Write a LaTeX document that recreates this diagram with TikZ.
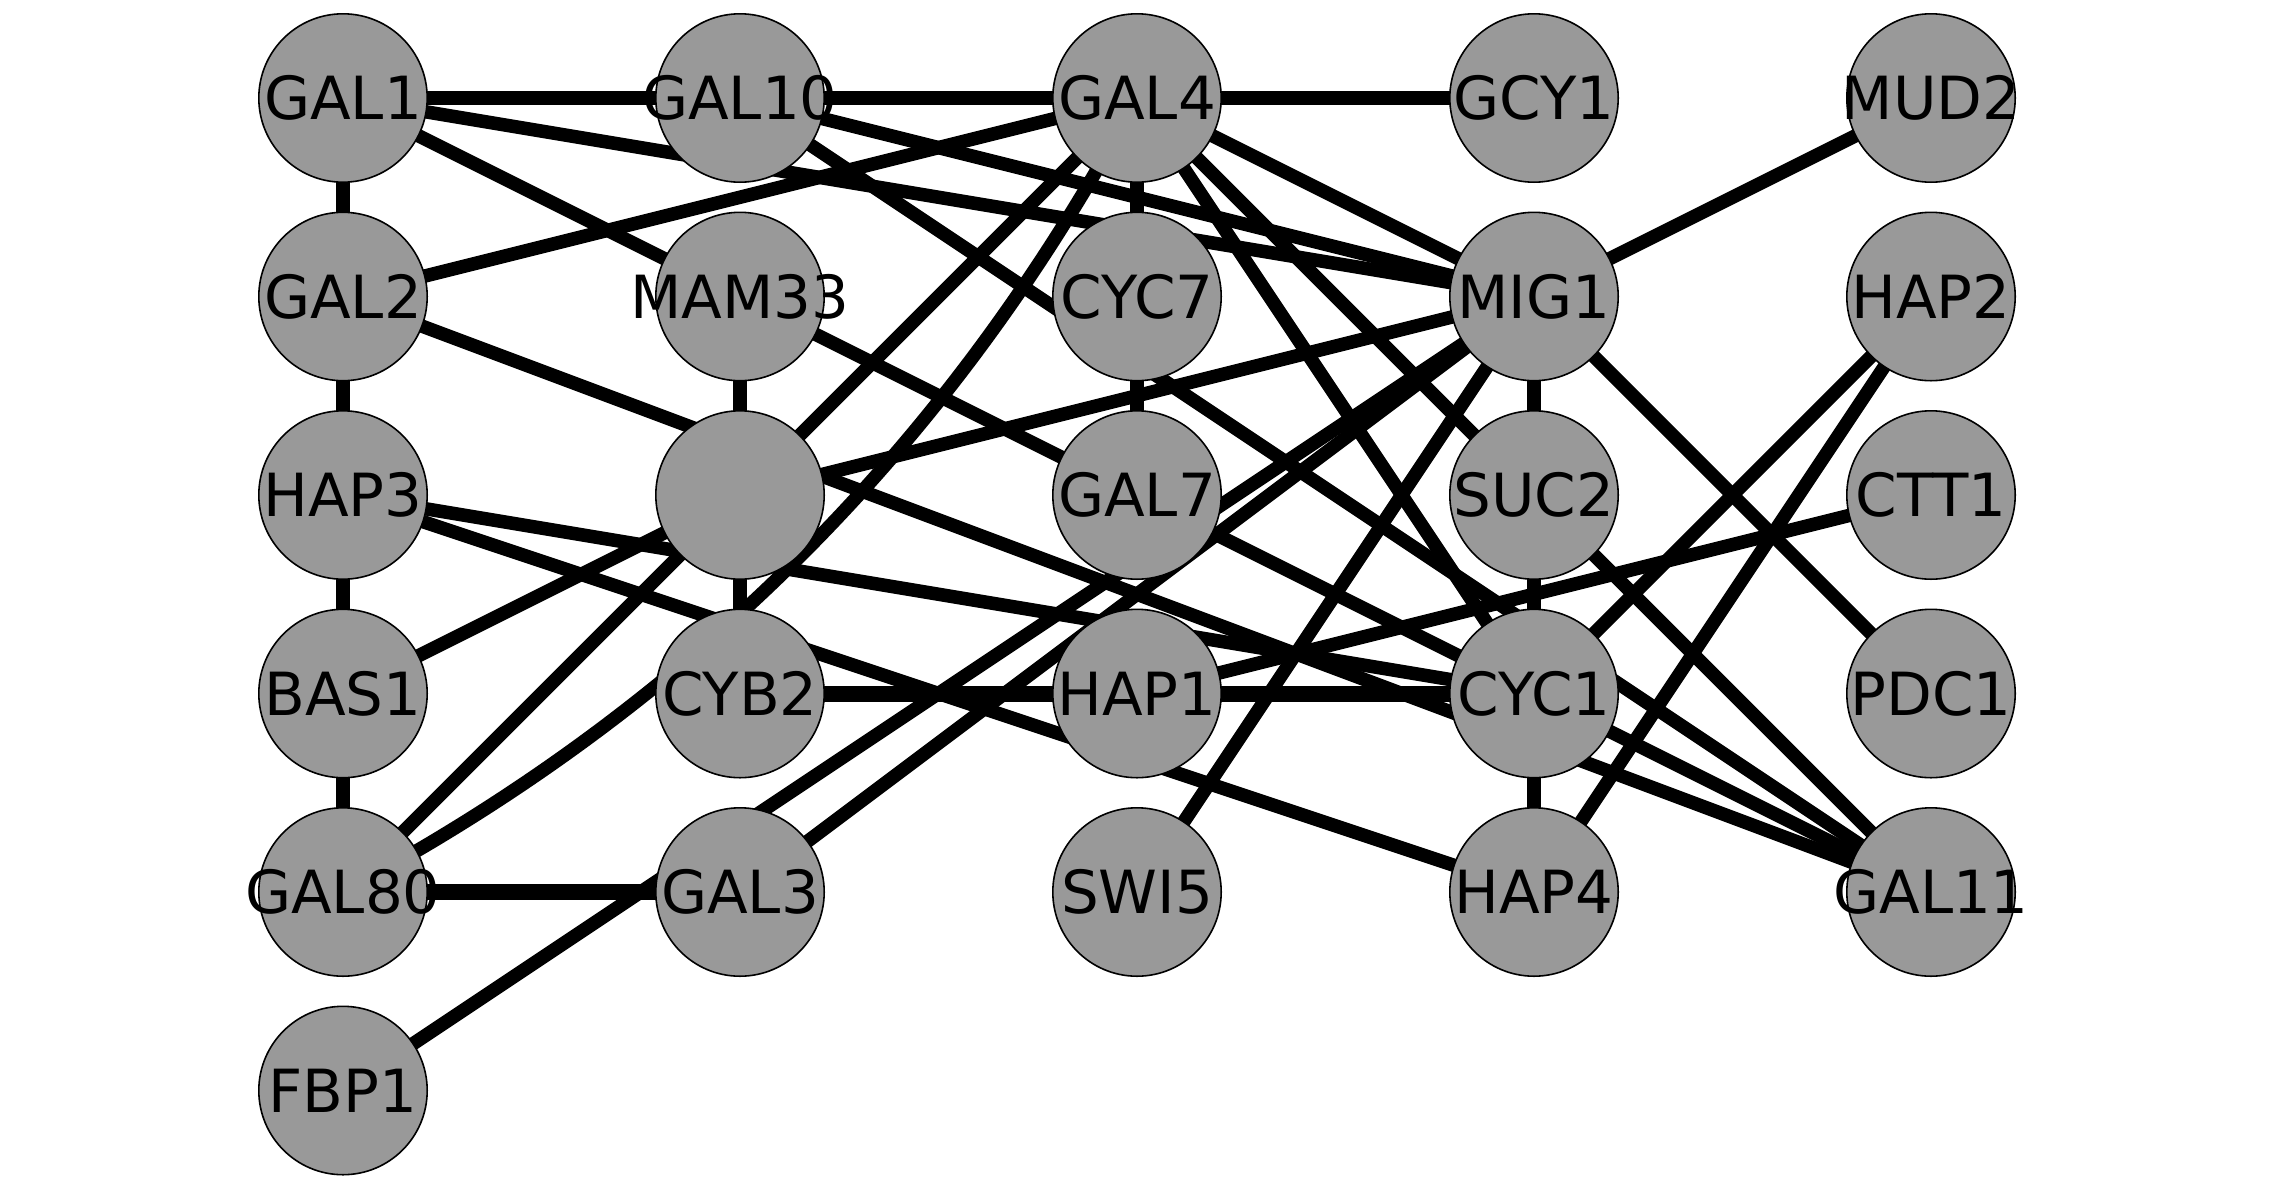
\documentclass[tikz,border=0pt]{standalone}
\usepackage{fontspec}
\setmainfont{DejaVu Sans}
\definecolor{nodegray}{RGB}{153,153,153}
\newcommand\glab[1]{\makebox[0pt][c]{#1}}
\pgfdeclarelayer{edgelayer}
\pgfsetlayers{edgelayer,main}
\begin{document}
\begin{tikzpicture}[x=1pt,y=-1pt,
  gene/.style={circle, draw=black, line width=1.6pt, fill=nodegray,
    minimum size=168.4pt, inner sep=0pt,
    font=\fontsize{59.5}{62}\selectfont, text height=43.4pt, text depth=0pt},
  link/.style={line width=13.5pt, draw=black},
  heavylink/.style={line width=16pt, draw=black}]
\useasboundingbox (0,0) rectangle (2274,1189);

% column 0
\node[gene] (gal1)  at (343,98)    {\glab{GAL1}};
\node[gene] (gal2)  at (343,296.5) {\glab{GAL2}};
\node[gene] (hap3)  at (343,495)   {\glab{HAP3}};
\node[gene] (bas1)  at (343,693.5) {\glab{BAS1}};
\node[gene] (gal80) at (343,892)   {\glab{GAL80}};
\node[gene] (fbp1)  at (343,1090.5){\glab{FBP1}};
% column 1
\node[gene] (gal10) at (740,98)    {\glab{GAL10}};
\node[gene] (mam33) at (740,296.5) {\glab{MAM33}};
\node[gene] (blank) at (740,495)   {\glab{}};
\node[gene] (cyb2)  at (740,693.5) {\glab{CYB2}};
\node[gene] (gal3)  at (740,892)   {\glab{GAL3}};
% column 2
\node[gene] (gal4)  at (1137,98)    {\glab{GAL4}};
\node[gene] (cyc7)  at (1137,296.5) {\glab{CYC7}};
\node[gene] (gal7)  at (1137,495)   {\glab{GAL7}};
\node[gene] (hap1)  at (1137,693.5) {\glab{HAP1}};
\node[gene] (swi5)  at (1137,892)   {\glab{SWI5}};
% column 3
\node[gene] (gcy1)  at (1534,98)    {\glab{GCY1}};
\node[gene] (mig1)  at (1534,296.5) {\glab{MIG1}};
\node[gene] (suc2)  at (1534,495)   {\glab{SUC2}};
\node[gene] (cyc1)  at (1534,693.5) {\glab{CYC1}};
\node[gene] (hap4)  at (1534,892)   {\glab{HAP4}};
% column 4
\node[gene] (mud2)  at (1931,98)    {\glab{MUD2}};
\node[gene] (hap2)  at (1931,296.5) {\glab{HAP2}};
\node[gene] (ctt1)  at (1931,495)   {\glab{CTT1}};
\node[gene] (pdc1)  at (1931,693.5) {\glab{PDC1}};
\node[gene] (gal11) at (1931,892)   {\glab{GAL11}};

\begin{pgfonlayer}{edgelayer}
\draw[link] (gal1.center) -- (gal10.center);
\draw[link] (gal10.center) -- (gal4.center);
\draw[link] (gal4.center) -- (gcy1.center);
\draw[link] (gal1.center) -- (gal2.center);
\draw[link] (gal2.center) -- (hap3.center);
\draw[link] (hap3.center) -- (bas1.center);
\draw[link] (bas1.center) -- (gal80.center);
\draw[link] (mam33.center) -- (blank.center);
\draw[link] (blank.center) -- (cyb2.center);
\draw[link] (gal4.center) -- (cyc7.center);
\draw[link] (cyc7.center) -- (gal7.center);
\draw[link] (mig1.center) -- (suc2.center);
\draw[link] (suc2.center) -- (cyc1.center);
\draw[link] (cyc1.center) -- (hap4.center);
\draw[link] (gal1.center) -- (mig1.center);
\draw[link] (gal1.center) -- (gal11.center);
\draw[link] (gal10.center) -- (mig1.center);
\draw[link] (gal10.center) -- (gal11.center);
\draw[link] (gal2.center) -- (gal4.center);
\draw[link] (gal2.center) -- (gal11.center);
\draw[link] (gal4.center) -- (mig1.center);
\draw[link] (gal4.center) -- (gal11.center);
\draw[link] (gal4.center) -- (cyc1.center);
\draw[link] (hap3.center) -- (cyc1.center);
\draw[link] (hap3.center) -- (hap4.center);
\draw[link] (bas1.center) -- (blank.center);
\draw[link] (blank.center) -- (mig1.center);
\draw[link] (gal80.center) -- (gal4.center);
\draw[link] (gal80.center) to[bend right=17, looseness=0.89] (gal4.center);
\draw[heavylink] (gal80.center) -- (gal3.center);
\draw[link] (gal3.center) -- (mig1.center);
\draw[link] (fbp1.center) -- (mig1.center);
\draw[link] (mig1.center) -- (mud2.center);
\draw[link] (mig1.center) -- (pdc1.center);
\draw[link] (hap2.center) -- (cyc1.center);
\draw[link] (hap2.center) -- (hap4.center);
\draw[link] (ctt1.center) -- (hap1.center);
\draw[heavylink] (cyb2.center) -- (hap1.center);
\draw[heavylink] (hap1.center) -- (cyc1.center);
\draw[link] (swi5.center) -- (mig1.center);
\end{pgfonlayer}
\end{tikzpicture}
\end{document}
